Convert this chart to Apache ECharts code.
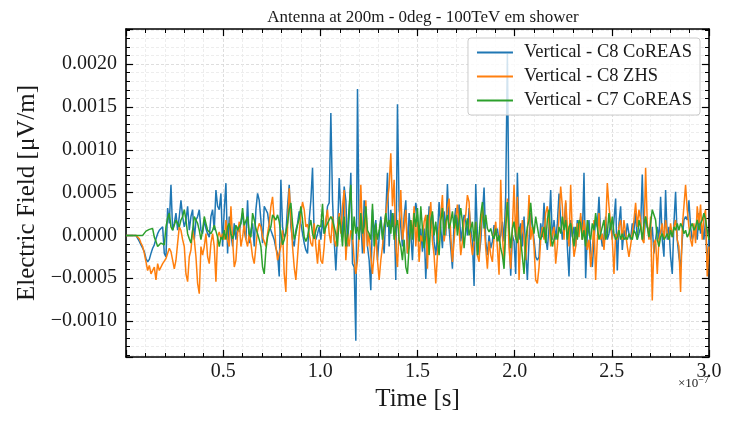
<!DOCTYPE html>
<html>
<head>
<meta charset="utf-8">
<title>Antenna at 200m - 0deg - 100TeV em shower</title>
<script src="https://cdn.jsdelivr.net/npm/echarts@6/dist/echarts.min.js"></script>
<style>
html,body{margin:0;padding:0;background:#fff;}
#chart{width:731px;height:422px;}
</style>
</head>
<body>
<div id="chart"></div>
<script>
// sample spacing of the traces (s)
var sampleStep = 0.857e-9;

// vertical E-field, in units of 1e-4 uV/m, one value per sample
var c8Coreas = [
  0,0,0,0,0,0,0,-0.1,-0.7,-1.1,-1.5,-1.9,-2.7,-3.1,-2.8,-2.1,-1.5,-1.1,-0.4,0.2,0.6,0.8,1.0,-2.1,-2.5,3.2,1.4,5.9,0.6,1.4,2.6,0.6,2.2,4.1,2.2,1.0,1.8,3.4,0.6,2.2,3.0,-0.5,1.8,2.2,3.0,0.6,0.2,1.8,0.8,0.2,-0.2,2.2,3.0,0.6,5.3,3.4,3.0,4.9,
  -1.3,3.0,6.1,-2.1,2.2,0.2,-1.3,1.4,-0.5,1.0,0.4,0.2,2.6,0.6,-0.5,4.1,-0.9,0.6,1.4,-1.3,3.0,4.9,4.1,1.8,-0.9,3.4,3.4,2.6,1.2,0.6,0.4,-0.5,-1.5,-2.1,-4.8,6.5,1.0,-0.2,0.2,3.4,5.9,1.0,-0.5,-1.3,0.6,1.4,2.8,1.4,0.2,-0.9,-1.7,-2.1,1.8,4.1,7.9,-0.2,-0.5,0.2,
  1.0,-0.5,1.8,0.2,1.4,3.4,3.8,14.3,4.1,-0.5,-4.1,0.2,6.7,2.6,-0.2,5.7,4.1,-1.3,2.2,7.3,-3.3,-3.7,-12.3,17.1,0.2,1.8,-2.1,4.1,2.2,-1.3,-2.9,-6.4,3.0,0.2,1.8,-2.9,-0.2,2.2,0.2,-2.1,2.6,7.3,-1.3,3.0,1.0,2.6,-5.2,15.3,3.0,1.0,-1.3,2.2,4.1,-2.1,2.6,0.2,-2.9,1.8,3.8,
  2.4,-0.7,0.8,-1.9,0.8,-5.1,-0.7,3.4,0.8,2.4,-0.7,-2.3,0.0,3.9,0.8,-1.5,2.8,0.0,6.0,0.8,-1.5,-3.9,1.6,3.2,0.8,3.6,-0.7,0.8,2.4,1.6,0.0,3.2,0.8,-0.7,-5.9,6.0,0.0,-2.3,-0.7,2.4,5.6,-0.7,-2.3,0.0,-1.5,-0.7,1.2,0.0,0.8,-0.7,0.0,1.6,-0.7,4.7,21.2,0.8,-4.7,0.0,-0.7,
  -4.5,7.3,-0.5,1.4,-1.3,2.2,-1.7,-5.2,-0.5,2.6,1.0,-0.5,-2.5,-2.9,-2.5,1.4,-0.2,3.8,-0.2,-1.7,1.0,5.3,-0.5,1.8,-0.5,1.4,4.9,1.8,-0.5,1.0,3.8,-1.3,-4.8,1.8,-0.2,1.0,-1.3,1.8,0.2,2.2,-0.5,7.3,-5.0,0.2,1.8,-1.7,-3.7,-0.5,1.8,1.0,4.5,0.2,-1.3,-0.2,2.2,-0.5,0.2,1.4,-0.5,
  1.8,4.3,-4.1,1.4,3.4,-1.7,0.6,-0.5,1.4,0.2,-0.5,1.4,0.6,2.6,-0.5,0.2,1.0,7.1,-0.5,2.2,1.0,0.6,-0.5,1.0,-2.1,-0.5,1.0,-0.5,4.5,-0.5,-2.5,5.3,-0.5,1.0,-2.5,-4.5,1.4,5.1,-0.5,-2.5,-3.7,-0.5,1.8,2.2,1.8,4.1,1.0,-0.5,0.2,1.0,-0.5,2.6,0.2,1.0,-0.5,1.8,-3.7,-0.5
];
var c8Zhs = [
  0,0,0,0,0,0,0,-0.1,-0.4,-0.9,-1.3,-2.1,-3.1,-4.1,-3.5,-4.5,-4.5,-3.7,-5.2,-3.3,-4.1,-4.3,-3.3,-3.0,-2.7,-2.5,-1.5,-1.9,-2.9,-3.9,-2.9,-0.9,1.0,0.6,-0.5,-1.3,-4.5,-5.4,-2.5,-1.7,0.6,-0.5,-2.5,-5.6,-6.8,-1.3,-2.3,-1.3,0.2,-2.5,-3.3,-0.9,0.2,-1.3,-5.4,-0.2,0.4,-0.4,
  0.2,-0.5,1.8,-0.5,-1.3,3.4,-0.5,-3.7,-2.9,0.2,1.6,-1.3,-0.2,1.4,-0.5,-1.3,0.2,-0.9,-2.5,-3.3,-1.3,0.6,1.4,1.0,-0.2,-0.7,-1.3,0.2,1.4,3.4,4.5,1.8,-1.3,-2.9,-2.1,-1.3,0.6,-4.5,-6.6,1.0,5.5,2.2,-1.3,-3.7,-5.2,-2.5,0.2,2.6,3.9,3.0,1.0,1.3,0.2,-0.9,-1.3,1.4,-1.3,-3.3,
  -0.5,-2.9,-3.3,-1.3,1.8,3.0,0.2,-0.9,2.2,-0.5,-1.3,1.0,2.6,0.2,3.4,5.3,-2.9,0.2,-1.3,0.6,0.2,-2.9,-4.5,-2.9,0.2,5.9,0.2,-2.1,4.1,-1.3,0.2,-2.5,-4.5,-2.1,0.2,-2.9,-5.2,-2.9,-1.3,1.0,2.6,4.1,5.7,9.6,3.4,6.5,-1.3,-3.7,1.0,5.3,-0.5,1.0,3.0,-2.1,-1.3,1.8,0.2,3.4,-1.3,
  1.6,-3.1,0.0,-0.7,1.6,2.4,-3.9,1.6,3.9,-0.7,-2.3,-5.6,-2.3,0.8,2.4,4.7,-0.7,0.8,3.2,4.3,0.0,-3.1,-0.7,2.0,3.6,0.8,-2.3,-0.7,1.6,2.4,4.7,3.9,-0.7,-2.3,-0.7,1.6,-2.3,-3.1,0.8,3.2,1.6,-1.5,-3.9,-0.7,-2.3,-3.1,0.0,1.6,-1.5,-4.6,6.5,0.0,-3.1,1.6,4.3,-1.5,-3.9,0.8,5.9,
  -0.5,4.5,-5.2,-0.2,1.8,-0.5,-2.9,0.2,4.7,-0.5,1.0,-1.3,-5.2,-5.6,-3.7,-0.5,1.0,-0.5,2.6,3.4,1.4,-1.3,0.2,1.0,-3.3,-1.3,2.2,5.7,3.4,-0.5,4.1,1.0,-1.3,5.9,0.2,-2.5,-1.3,1.4,-0.2,2.6,-0.5,1.8,0.2,-1.7,-0.5,-3.7,-1.7,1.8,-5.2,-0.5,2.6,-0.5,0.2,-1.7,1.0,6.1,3.4,1.4,-0.5,
  -4.5,0.2,-0.5,1.0,1.8,-0.5,1.8,0.2,-1.3,-2.5,-2.5,0.2,1.8,3.8,1.0,3.0,1.8,-0.5,-0.9,7.9,1.4,-0.5,2.2,-7.6,-0.9,-0.5,-4.5,-0.5,-0.5,1.4,-0.5,1.8,0.2,-0.5,1.4,-0.2,1.0,1.8,-0.5,-1.3,-6.6,1.0,3.4,5.9,3.0,1.0,-0.5,-1.3,1.4,-0.9,3.4,1.4,3.6,-0.5,2.2,3.0,-4.8,-1.3
];
var c7Coreas = [
  0,0,0,0,0,0,0,0,0,0,0,0.2,0.5,0.6,0.7,0.8,0.8,-0.2,-0.7,-1.3,-1.1,-0.9,-0.7,-1.1,1.0,2.0,2.6,1.0,0.6,1.2,1.8,1.4,1.0,1.8,2.2,3.0,1.8,0.2,-0.4,-0.9,0.6,2.2,1.8,1.4,0.6,-0.5,0.6,2.2,1.4,0.6,0.4,0.2,0.6,1.2,1.0,-0.2,-1.3,-0.2,
  -0.5,0.6,-0.5,1.0,1.4,0.2,-0.4,0.2,1.2,0.6,0.4,1.4,3.2,1.2,1.4,2.2,0.2,-0.2,2.6,1.8,0.8,0.2,-0.5,-1.3,-3.7,-4.5,-1.7,-0.2,0.6,1.0,2.4,2.6,1.8,2.4,1.6,0.2,-1.1,-0.5,0.4,1.4,3.0,3.8,1.4,-0.5,0.2,1.2,2.0,3.4,1.8,-0.2,-0.7,-0.2,1.0,1.8,0.2,-0.4,0.6,1.2,
  1.4,1.0,3.7,0.2,1.0,1.4,1.8,2.2,1.8,1.0,0.2,-1.3,2.2,1.0,-1.3,2.2,-1.3,0.2,3.4,5.9,-0.5,2.2,0.2,1.0,-0.5,2.6,0.2,1.0,3.4,0.6,0.2,-0.5,3.7,-1.3,1.4,-0.5,0.6,1.8,-0.5,1.0,2.6,1.0,1.8,0.2,2.6,-0.5,1.0,1.8,-0.5,-1.3,-2.9,-0.5,-3.7,-4.5,-1.3,1.8,-0.5,2.6,1.0,
  3.2,-0.7,3.4,0.8,-1.5,0.0,2.4,-2.3,1.6,2.8,0.0,1.6,-0.7,-2.3,1.6,3.2,0.0,1.6,2.4,0.8,1.6,2.8,0.8,2.4,0.0,1.6,3.2,1.6,-1.5,0.8,2.0,0.0,0.8,1.6,-0.7,1.6,-2.3,0.0,2.4,3.9,0.8,2.4,0.8,0.4,0.8,0.0,-0.4,0.8,-0.7,0.0,-1.5,-2.3,-3.9,0.8,3.9,0.8,-1.5,0.8,1.6,
  -0.2,-0.9,1.0,-0.5,-2.5,-4.5,-0.5,1.0,1.8,3.8,1.4,0.2,2.2,1.0,-0.2,-0.5,0.2,1.0,-0.9,1.8,3.0,0.2,-1.3,-0.5,0.2,-0.5,1.0,0.2,2.2,0.6,1.8,-0.5,1.0,1.4,0.2,-1.3,1.0,-0.5,1.8,1.4,-0.5,0.6,-1.3,1.8,0.2,-0.5,1.4,0.6,2.6,1.0,-0.5,0.2,1.0,1.8,-0.5,0.2,2.6,0.6,2.2,
  0.2,-0.5,-0.2,0.6,-0.5,0.2,-0.5,-0.2,-0.5,0.2,-0.2,-0.5,0.6,0.2,-0.5,1.8,1.0,-0.5,1.4,2.2,1.0,-0.2,1.4,3.0,2.8,1.8,-0.5,-1.3,-0.2,0.2,-0.5,-0.2,0.2,-0.5,0.6,-0.2,1.0,0.6,1.4,0.6,1.4,1.0,0.2,0.6,-0.2,0.2,1.0,1.4,0.6,1.0,1.8,0.6,1.4,1.8,2.6,1.8,0.6,-0.5
];

var seriesNames = ['Vertical - C8 CoREAS', 'Vertical - C8 ZHS', 'Vertical - C7 CoREAS'];
var seriesColors = ['#1f77b4', '#ff7f0e', '#2ca02c'];
var xMin = 0, xMax = 3.0e-7, xStep = 0.5e-7;
var yMin = -0.00142, yMax = 0.00241, yStep = 0.0005;

var serif = "'Liberation Serif', 'DejaVu Serif', serif";
var ink = '#1a1a1a';

// index -> [time, field]
var toPoints = function(vals){
    var pts = [];
    for (var i = 0; i < vals.length; i++) {
        pts.push([i * sampleStep, vals[i] * 1e-4]);
    }
    return pts;
};

var xLabel = function(v){
    if (Math.abs(v) < 1e-12) return '';
    return (v / 1e-7).toFixed(1);
};
var yLabel = function(v){
    var k = v / yStep;
    if (Math.abs(k - Math.round(k)) > 1e-6) return '';
    return (Math.round(k) * yStep).toFixed(4).replace('-', '\u2212');
};

var frameAxis = {
    axisLine: {show: true, onZero: false, lineStyle: {color: '#000', width: 1.6}},
    axisTick: {show: true, inside: true, length: 7, lineStyle: {color: '#000', width: 1.2}},
    minorTick: {show: true, splitNumber: 5, length: 4, lineStyle: {color: '#000', width: 1}}
};
var gridLines = {
    splitLine: {show: true, lineStyle: {color: '#d6d6d6', width: 0.8, type: [3, 2]}},
    minorSplitLine: {show: true, lineStyle: {color: '#e8e8e8', width: 0.8, type: [3, 2]}}
};

var chart = echarts.init(document.getElementById('chart'), null, {renderer: 'canvas'});

var series = [];
var traces = [c8Coreas, c8Zhs, c7Coreas];
for (var s = 0; s < traces.length; s++) {
    series.push({
        name: seriesNames[s],
        type: 'line',
        data: toPoints(traces[s]),
        showSymbol: false,
        symbol: 'none',
        clip: true,
        lineStyle: {color: seriesColors[s], width: 1.5},
        itemStyle: {color: seriesColors[s]},
        z: 2 + s
    });
}

var option = {
    animation: false,
    backgroundColor: '#fff',
    title: {
        text: 'Antenna at 200m - 0deg - 100TeV em shower',
        left: 418,
        top: 4,
        textAlign: 'center',
        textStyle: {fontFamily: serif, fontSize: 17, fontWeight: 'normal', color: ink}
    },
    grid: {left: 126, right: 22, top: 29, bottom: 65, containLabel: false},
    legend: {
        orient: 'vertical',
        right: 31,
        top: 38,
        data: seriesNames,
        icon: 'rect',
        itemWidth: 36,
        itemHeight: 2,
        itemGap: 5,
        padding: [5, 8, 5, 9],
        backgroundColor: 'rgba(255,255,255,0.8)',
        borderColor: '#cccccc',
        borderWidth: 1,
        borderRadius: 3,
        textStyle: {fontFamily: serif, fontSize: 18.5, color: ink, padding: [0, 0, 0, 6]},
        z: 10
    },
    xAxis: [
        echarts.util.merge({
            type: 'value', min: xMin, max: xMax, interval: xStep,
            name: 'Time [s]', nameLocation: 'middle', nameGap: 27,
            nameTextStyle: {fontFamily: serif, fontSize: 25, color: ink},
            axisLabel: {formatter: xLabel, fontFamily: serif, fontSize: 20, color: ink, margin: 5}
        }, echarts.util.merge(echarts.util.clone(frameAxis), gridLines)),
        echarts.util.merge({
            type: 'value', position: 'top', min: xMin, max: xMax, interval: xStep,
            axisLabel: {show: false}, splitLine: {show: false}
        }, echarts.util.clone(frameAxis))
    ],
    yAxis: [
        echarts.util.merge({
            type: 'value', min: yMin, max: yMax, splitNumber: 8,
            name: 'Electric Field [\u03bcV/m]', nameLocation: 'middle', nameGap: 86,
            nameTextStyle: {fontFamily: serif, fontSize: 25, color: ink},
            axisLabel: {formatter: yLabel, fontFamily: serif, fontSize: 20, color: ink, margin: 9}
        }, echarts.util.merge(echarts.util.clone(frameAxis), gridLines)),
        echarts.util.merge({
            type: 'value', position: 'right', min: yMin, max: yMax, splitNumber: 8,
            axisLabel: {show: false}, splitLine: {show: false}
        }, echarts.util.clone(frameAxis))
    ],
    graphic: [{
        type: 'text',
        left: 678,
        top: 375,
        style: {
            text: '{a|\u00d710}{b|\u22127}',
            rich: {
                a: {fontFamily: serif, fontSize: 13, fill: ink, color: ink},
                b: {fontFamily: serif, fontSize: 10, fill: ink, color: ink, verticalAlign: 'top', padding: [0, 0, 7, 0]}
            }
        }
    }],
    series: series
};
chart.setOption(option);
</script>
</body>
</html>
